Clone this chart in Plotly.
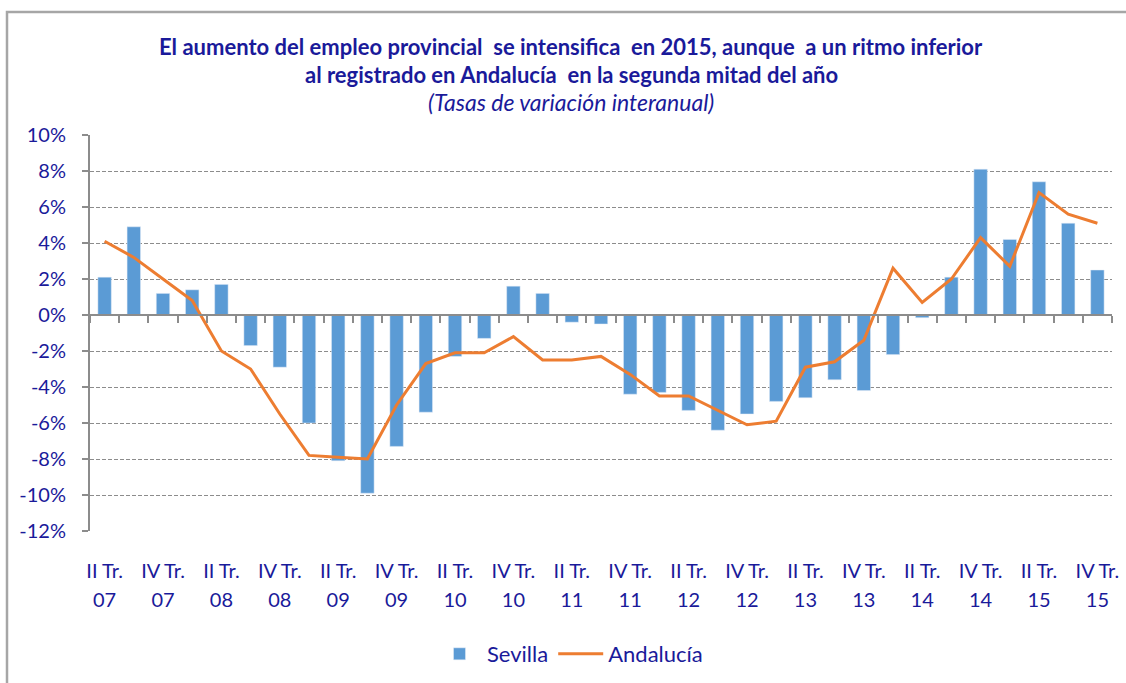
import plotly.graph_objects as go

quarters = [
    "II Tr. 07", "III Tr. 07", "IV Tr. 07",
    "I Tr. 08", "II Tr. 08", "III Tr. 08", "IV Tr. 08",
    "I Tr. 09", "II Tr. 09", "III Tr. 09", "IV Tr. 09",
    "I Tr. 10", "II Tr. 10", "III Tr. 10", "IV Tr. 10",
    "I Tr. 11", "II Tr. 11", "III Tr. 11", "IV Tr. 11",
    "I Tr. 12", "II Tr. 12", "III Tr. 12", "IV Tr. 12",
    "I Tr. 13", "II Tr. 13", "III Tr. 13", "IV Tr. 13",
    "I Tr. 14", "II Tr. 14", "III Tr. 14", "IV Tr. 14",
    "I Tr. 15", "II Tr. 15", "III Tr. 15", "IV Tr. 15",
]

sevilla = [2.1, 4.9, 1.2, 1.4, 1.7, -1.7, -2.9, -6.0, -8.1, -9.9, -7.3, -5.4,
           -2.3, -1.3, 1.6, 1.2, -0.4, -0.5, -4.4, -4.3, -5.3, -6.4, -5.5, -4.8,
           -4.6, -3.6, -4.2, -2.2, -0.15, 2.1, 8.1, 4.2, 7.4, 5.1, 2.5]

andalucia = [4.1, 3.2, 2.0, 0.8, -2.0, -3.0, -5.5, -7.8, -7.9, -8.0, -5.0, -2.7,
             -2.1, -2.1, -1.2, -2.5, -2.5, -2.3, -3.3, -4.5, -4.5, -5.3, -6.1, -5.9,
             -2.9, -2.6, -1.4, 2.6, 0.7, 2.0, 4.3, 2.7, 6.8, 5.6, 5.1]

y_ticks = [10, 8, 6, 4, 2, 0, -2, -4, -6, -8, -10, -12]

title_lines = [
    "El aumento del empleo provincial  se intensifica  en 2015, aunque  a un ritmo inferior",
    "al registrado en Andalucía  en la segunda mitad del año",
]
subtitle = "(Tasas de variación interanual)"

NAVY = "#1a1a9a"
BLUE = "#5b9bd5"
ORANGE = "#ed7d31"
GRID = "#8c8c8c"
FONT = "Lato"
FS = 20

W, H = 1126, 683
L, R, T, B = 90, 14, 135, 152
PW, PH = W - L - R, H - T - B

def px_x(p):
    return (p - L) / PW

def px_y(p):
    return (H - B - p) / PH

n = len(quarters)
idx = list(range(n))
label_idx = idx[::2]
lab_top = [quarters[i].rsplit(" ", 1)[0] for i in label_idx]
lab_bot = [quarters[i].rsplit(" ", 1)[1] for i in label_idx]
boundaries = [i - 0.5 for i in range(n + 1)]
xr = [-0.5, n - 0.5]
yr = [-12, 10]

fig = go.Figure()
fig.add_trace(go.Bar(x=idx, y=sevilla, name="Sevilla", marker_color=BLUE,
                     width=0.46, hovertext=quarters))
fig.add_trace(go.Scatter(x=idx, y=andalucia, name="Andalucía", mode="lines",
                         line=dict(color=ORANGE, width=3), hovertext=quarters))
fig.add_trace(go.Scatter(x=[], y=[], xaxis="x2", showlegend=False))
fig.add_trace(go.Scatter(x=[], y=[], xaxis="x3", showlegend=False))

fig.update_layout(
    width=W, height=H,
    margin=dict(l=L, r=R, t=T, b=B, autoexpand=False),
    paper_bgcolor="white", plot_bgcolor="white",
    font=dict(family=FONT, color=NAVY, size=FS),
    showlegend=True,
    legend=dict(orientation="h", x=px_x(570), y=px_y(654), xanchor="center",
                yanchor="middle", font=dict(size=22, color=NAVY),
                itemwidth=45, bgcolor="rgba(0,0,0,0)"),
    xaxis=dict(range=xr, tickmode="array", tickvals=label_idx, ticktext=lab_top,
               showgrid=False, zeroline=False, showline=False, ticks="",
               automargin=False,
               ticklabelstandoff=26, tickfont=dict(size=FS, color=NAVY)),
    xaxis3=dict(range=xr, overlaying="x", anchor="y", side="bottom",
                tickmode="array", tickvals=label_idx, ticktext=lab_bot,
                showgrid=False, zeroline=False, showline=False, ticks="",
                automargin=False,
                ticklabelstandoff=55, tickfont=dict(size=FS, color=NAVY)),
    xaxis2=dict(range=xr, overlaying="x", anchor="free",
                position=(0 - yr[0]) / (yr[1] - yr[0]), side="bottom",
                tickmode="array", tickvals=boundaries, showticklabels=False,
                ticks="outside", ticklen=7, tickcolor=GRID, tickwidth=1.5,
                showline=True, linecolor=GRID, linewidth=2, automargin=False,
                showgrid=False, zeroline=False),
    yaxis=dict(range=yr, tickmode="array", tickvals=y_ticks,
               ticktext=[f"{v}%" for v in y_ticks], automargin=False,
               showgrid=True, gridcolor=GRID, gridwidth=1.3, griddash="4px,2px",
               zeroline=False, showline=True, linecolor=GRID, linewidth=2,
               ticks="outside", ticklen=6, tickcolor=GRID, tickwidth=1.5,
               ticklabelstandoff=12, tickfont=dict(size=FS, color=NAVY)),
)

fig.add_shape(type="rect", xref="paper", yref="paper",
              x0=px_x(7), x1=px_x(1140), y0=px_y(700), y1=px_y(12),
              line=dict(color="#a6a6a6", width=2.5), fillcolor="rgba(0,0,0,0)",
              layer="below")

cx = px_x(571)
fig.add_annotation(text="<b>" + title_lines[0] + "</b>", x=cx, y=px_y(46),
                   xref="paper", yref="paper", showarrow=False, xanchor="center",
                   yanchor="middle", font=dict(size=22, color=NAVY, family=FONT))
fig.add_annotation(text="<b>" + title_lines[1] + "</b>", x=cx, y=px_y(74),
                   xref="paper", yref="paper", showarrow=False, xanchor="center",
                   yanchor="middle", font=dict(size=22, color=NAVY, family=FONT))
fig.add_annotation(text="<i>" + subtitle + "</i>", x=cx, y=px_y(102),
                   xref="paper", yref="paper", showarrow=False, xanchor="center",
                   yanchor="middle", font=dict(size=23, color=NAVY, family=FONT))

fig.write_html("out.html",
               config={"displayModeBar": False},
               post_script="document.body.style.margin='0';document.body.style.overflow='hidden';")
